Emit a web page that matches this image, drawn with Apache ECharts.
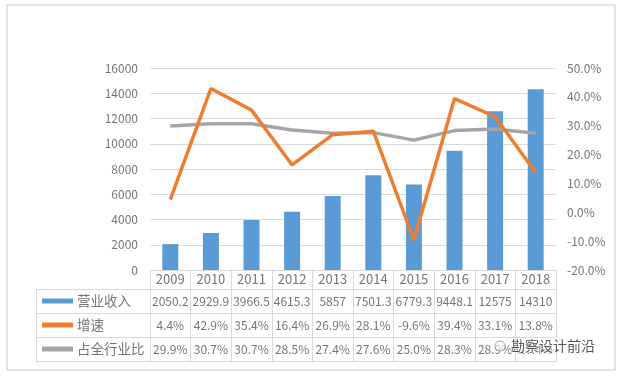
<!DOCTYPE html>
<html>
<head>
<meta charset="utf-8">
<title>营业收入</title>
<script src="https://cdn.jsdelivr.net/npm/echarts@6/dist/echarts.min.js"></script>
<style>
  html, body { margin: 0; padding: 0; background: #fff; }
  #chart { width: 621px; height: 376px; }
</style>
</head>
<body>
<div id="chart"></div>
<script>
// data
var years = ['2009', '2010', '2011', '2012', '2013', '2014', '2015', '2016', '2017', '2018']
var revenue = [2050.2, 2929.9, 3966.5, 4615.3, 5857, 7501.3, 6779.3, 9448.1, 12575, 14310]
var growth = [4.4, 42.9, 35.4, 16.4, 26.9, 28.1, -9.6, 39.4, 33.1, 13.8]
var share = [29.9, 30.7, 30.7, 28.5, 27.4, 27.6, 25.0, 28.3, 28.9, 27.4]
var seriesNames = ['营业收入', '增速', '占全行业比']

var FONT = '"Noto Sans CJK SC", "Noto Sans", sans-serif'
var TXT = '#767676'
var LINE = '#d9d9d9'

var chart = echarts.init(document.getElementById('chart'))

// table row axes: same categories, labels taken from the arrays
function rowAxis(values, fmt, margin) {
  return {
    type: 'category',
    position: 'bottom',
    data: years,
    axisLine: { show: false },
    axisTick: { show: false },
    axisLabel: {
      interval: 0,
      margin: margin,
      color: TXT,
      fontFamily: FONT,
      fontSize: 12,
      formatter: function (v, i) { return fmt(values[i]) }
    }
  }
}

function pct(v) { return v.toFixed(1) + '%' }

chart.setOption({
  animation: false,
  color: ['#5b9bd5', '#ed7d31', '#a5a5a5'],
  grid: { left: 150, right: 65, top: 68, bottom: 106 },
  legend: {
    data: seriesNames.map(function (n) { return { name: n, icon: 'rect' } }),
    orient: 'vertical',
    left: 42,
    top: 289,
    padding: 0,
    itemGap: 0,
    itemWidth: 31,
    itemHeight: 5,
    selectedMode: false,
    textStyle: { color: TXT, fontFamily: FONT, fontSize: 13.5, lineHeight: 24, padding: [0, 0, 0, -1] }
  },
  xAxis: [
    {
      type: 'category',
      position: 'bottom',
      data: years,
      axisLine: { lineStyle: { color: LINE } },
      axisTick: { show: true, interval: 0, length: 92, lineStyle: { color: LINE } },
      axisLabel: { interval: 0, margin: 3, color: TXT, fontFamily: FONT, fontSize: 13 }
    },
    rowAxis(revenue, function (v) { return String(v) }, 25),
    rowAxis(growth, pct, 49),
    rowAxis(share, pct, 73)
  ],
  yAxis: [
    {
      type: 'value',
      min: 0,
      max: 16000,
      interval: 2000,
      axisLine: { show: false },
      axisTick: { show: false },
      splitLine: { lineStyle: { color: LINE } },
      axisLabel: { margin: 12, color: TXT, fontFamily: FONT, fontSize: 12, formatter: function (v) { return String(v) } }
    },
    {
      type: 'value',
      min: -20,
      max: 50,
      interval: 10,
      position: 'right',
      axisLine: { show: false },
      axisTick: { show: false },
      splitLine: { show: false },
      axisLabel: { margin: 11, color: TXT, fontFamily: FONT, fontSize: 12, formatter: pct }
    }
  ],
  series: [
    {
      name: seriesNames[0],
      type: 'bar',
      barWidth: 16,
      data: revenue
    },
    {
      name: seriesNames[1],
      type: 'line',
      yAxisIndex: 1,
      symbol: 'none',
      lineStyle: { width: 3.5 },
      z: 4,
      data: growth
    },
    {
      name: seriesNames[2],
      type: 'line',
      yAxisIndex: 1,
      symbol: 'none',
      lineStyle: { width: 3.5 },
      z: 3,
      data: share
    }
  ],
  graphic: [
    // outer chart frame
    { type: 'rect', shape: { x: 7, y: 5, width: 608, height: 365 }, style: { fill: 'none', stroke: LINE, lineWidth: 1.5 }, silent: true },
    // table borders
    { type: 'line', shape: { x1: 36, y1: 289.5, x2: 556, y2: 289.5 }, style: { stroke: LINE, lineWidth: 1 } },
    { type: 'line', shape: { x1: 36, y1: 313.5, x2: 556, y2: 313.5 }, style: { stroke: LINE, lineWidth: 1 } },
    { type: 'line', shape: { x1: 36, y1: 337.5, x2: 556, y2: 337.5 }, style: { stroke: LINE, lineWidth: 1 } },
    { type: 'line', shape: { x1: 36, y1: 361.5, x2: 556, y2: 361.5 }, style: { stroke: LINE, lineWidth: 1 } },
    { type: 'line', shape: { x1: 36.5, y1: 289.5, x2: 36.5, y2: 361.5 }, style: { stroke: LINE, lineWidth: 1 } },
    // watermark
    {
      type: 'text',
      left: 510,
      top: 338,
      z: 100,
      style: { text: '勘察设计前沿', fill: '#555', font: '14px ' + FONT, stroke: 'rgba(255,255,255,0.7)', lineWidth: 2 }
    },
    {
      type: 'circle',
      shape: { cx: 500, cy: 346, r: 5 },
      z: 100,
      style: { fill: 'rgba(255,255,255,0.6)', stroke: '#aaa', lineWidth: 1 }
    }
  ]
})
</script>
</body>
</html>
